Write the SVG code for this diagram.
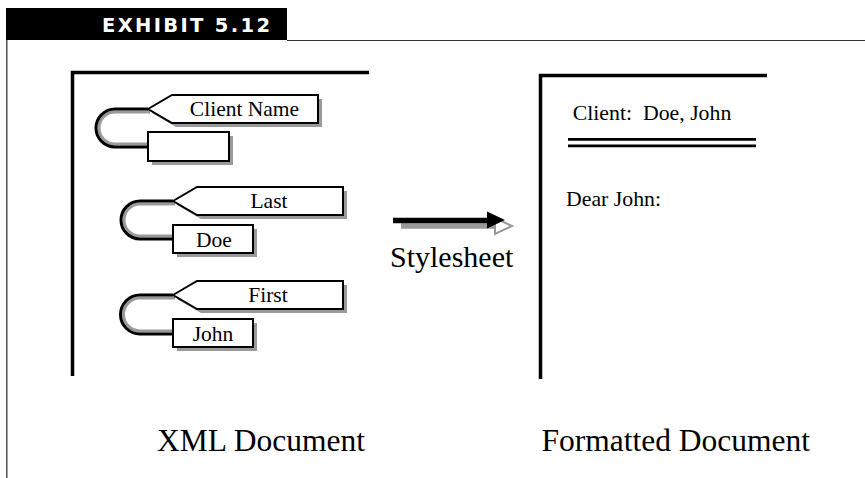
<svg xmlns="http://www.w3.org/2000/svg" width="865" height="478" viewBox="0 0 865 478">
<style>
  .serif { font-family: "Liberation Serif", "Times New Roman", serif; fill: #000; }
  .tag { fill: #fff; stroke: #000; stroke-width: 2; }
  .shadow { fill: #9a9a9a; stroke: none; }
  .loop { fill: none; stroke: #000; stroke-width: 3; }
  .loopsh { fill: none; stroke: #999; stroke-width: 3; }
  .frame { fill: none; stroke: #000; stroke-width: 3.5; }
</style>
<rect width="865" height="478" fill="#fff"/>
<g id="header">
  <rect x="6" y="8" width="281" height="32" fill="#000"/>
  <line x1="287" y1="40.5" x2="865" y2="40.5" stroke="#333" stroke-width="1.2"/>
  <line x1="6.8" y1="40" x2="6.8" y2="478" stroke="#333" stroke-width="1.3"/>
  <text x="102" y="32" font-family="'DejaVu Sans', 'Liberation Sans', sans-serif" font-weight="bold" font-size="19.5" fill="#fff" textLength="168" lengthAdjust="spacing">EXHIBIT 5.12</text>
</g>
<g id="xml-document">
  <path class="frame" d="M72.5,376 V72.5 H369"/>
  <text class="serif" x="157" y="451" font-size="31.5">XML Document</text>
</g>
<g id="connectors">
  <path class="loopsh" d="M150,112 H115 A16,16 0 0 0 115,144 H148"/>
  <path class="loop" d="M148,109 H115 A19,19 0 0 0 115,147 H148"/>
  <path class="loopsh" d="M175,204 H140 A16,16 0 0 0 140,236 H173"/>
  <path class="loop" d="M173,201 H140 A19,19 0 0 0 140,239 H173"/>
  <path class="loopsh" d="M175,298 H140 A16.5,16.5 0 0 0 140,331 H173"/>
  <path class="loop" d="M173,295 H140 A19.5,19.5 0 0 0 140,334 H173"/>
  <g id="stylesheet-arrow">
    <line x1="401" y1="226" x2="496" y2="226" stroke="#999" stroke-width="5.5"/>
    <polygon points="495,218 512,226 495,234" fill="#fff" stroke="#999" stroke-width="2"/>
    <line x1="393" y1="220.5" x2="489" y2="220.5" stroke="#000" stroke-width="5.5"/>
    <polygon points="487,211.5 505,220 487,228.5" fill="#000"/>
  </g>
</g>
<g id="client-name">
  <polygon class="shadow" points="152,113 176,99 322,99 322,127 176,127"/>
  <polygon class="tag" points="148,109 172,95 318,95 318,123 172,123"/>
  <text class="serif" x="244.5" y="115.5" font-size="21.5" text-anchor="middle">Client Name</text>
</g>
<g id="client-name-value">
  <rect class="shadow" x="152" y="136" width="81" height="29"/>
  <rect class="tag" x="148" y="132" width="81" height="29"/>
</g>
<g id="last">
  <polygon class="shadow" points="177,205 201,191 347,191 347,219 201,219"/>
  <polygon class="tag" points="173,201 197,187 343,187 343,215 197,215"/>
  <text class="serif" x="269" y="207.5" font-size="21.5" text-anchor="middle">Last</text>
</g>
<g id="last-value">
  <rect class="shadow" x="177" y="229" width="80" height="28"/>
  <rect class="tag" x="173" y="225" width="80" height="28"/>
  <text class="serif" x="214" y="247" font-size="21.5" text-anchor="middle">Doe</text>
</g>
<g id="first">
  <polygon class="shadow" points="177,299 201,285 347,285 347,313 201,313"/>
  <polygon class="tag" points="173,295 197,281 343,281 343,309 197,309"/>
  <text class="serif" x="268" y="302" font-size="21.5" text-anchor="middle">First</text>
</g>
<g id="first-value">
  <rect class="shadow" x="177" y="323" width="80" height="28"/>
  <rect class="tag" x="173" y="319" width="80" height="28"/>
  <text class="serif" x="213" y="341" font-size="21.5" text-anchor="middle">John</text>
</g>
<g id="stylesheet-label">
  <text class="serif" x="390" y="267" font-size="30">Stylesheet</text>
</g>
<g id="formatted-document">
  <path class="frame" d="M540.5,379 V75.5 H767"/>
  <text class="serif" x="572.7" y="120" font-size="21.8" xml:space="preserve">Client:  Doe, John</text>
  <line x1="568" y1="139.3" x2="756" y2="139.3" stroke="#000" stroke-width="2.8"/>
  <line x1="568" y1="145.8" x2="756" y2="145.8" stroke="#000" stroke-width="2.8"/>
  <text class="serif" x="566" y="206" font-size="21.8">Dear John:</text>
  <text class="serif" x="541.5" y="451" font-size="31.5">Formatted Document</text>
</g>
</svg>
